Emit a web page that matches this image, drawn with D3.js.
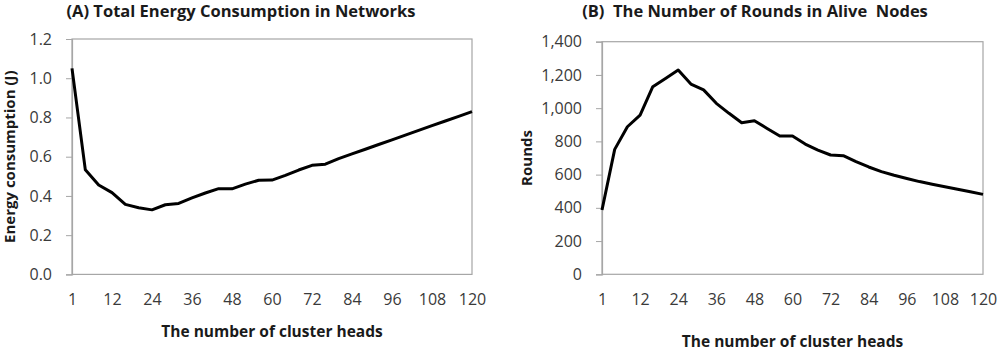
<!DOCTYPE html>
<html>
<head>
<meta charset="utf-8">
<script src="https://cdn.jsdelivr.net/npm/d3@7"></script>
<style>
  html, body { margin: 0; padding: 0; background: #fff; }
  svg { display: block; font-family: "Open Sans", "Noto Sans", sans-serif; }
  .pre { white-space: pre; }
</style>
</head>
<body>
<svg id="chart" width="1000" height="351"></svg>
<script>
// Cluster head counts (category axis, every 3rd one labelled)
const clusterHeads = [1, 4, 8, 12, 16, 20, 24, 28, 32, 36, 40, 44, 48, 52, 56, 60,
  64, 68, 72, 76, 80, 84, 88, 92, 96, 100, 104, 108, 112, 116, 120]
const xTickLabels = [1, 12, 24, 36, 48, 60, 72, 84, 96, 108, 120]

// (A) total energy consumption (J)
const energyValues = [1.05, 0.533, 0.456, 0.417, 0.357, 0.34, 0.329, 0.355, 0.362, 0.39,
  0.415, 0.437, 0.436, 0.46, 0.48, 0.481, 0.505, 0.532, 0.556, 0.562,
  0.59, 0.614, 0.638, 0.662, 0.686, 0.71, 0.734, 0.758, 0.782, 0.806, 0.83]
const energyTicks = [0, 0.2, 0.4, 0.6, 0.8, 1.0, 1.2]

// (B) rounds of alive nodes
const roundsValues = [387, 752, 888, 958, 1129, 1179, 1229, 1145, 1110, 1029,
  969, 912, 924, 878, 832, 832, 784, 748, 718, 714,
  678, 646, 618, 596, 577, 558, 542, 527, 512, 497, 481]
const roundsTicks = [0, 200, 400, 600, 800, 1000, 1200, 1400]

const svg = d3.select("#chart")

const panels = [
  {
    title: "(A) Total Energy Consumption in Networks",
    titleX: 241,
    yLabel: "Energy consumption (J)",
    yLabelX: 9,
    xLabelY: 337,
    box: { left: 72, right: 472, top: 39, bottom: 274.4 },
    values: energyValues,
    ticks: energyTicks,
    yMax: 1.2,
    format: d3.format(".1f")
  },
  {
    title: "(B)  The Number of Rounds in Alive  Nodes",
    titleX: 755,
    yLabel: "Rounds",
    yLabelX: 526,
    xLabelY: 347,
    box: { left: 602, right: 983, top: 41.7, bottom: 274.3 },
    values: roundsValues,
    ticks: roundsTicks,
    yMax: 1400,
    format: d3.format(",")
  }
]

panels.forEach(p => {
  const { box } = p
  const g = svg.append("g")

  const x = d3.scalePoint()
    .domain(clusterHeads)
    .range([box.left, box.right])

  const y = d3.scaleLinear()
    .domain([0, p.yMax])
    .range([box.bottom, box.top])

  // plot area frame
  g.append("rect")
    .attr("x", box.left)
    .attr("y", box.top)
    .attr("width", box.right - box.left)
    .attr("height", box.bottom - box.top)
    .attr("fill", "none")
    .attr("stroke", "#a6a6a6")
    .attr("stroke-width", 1.2)

  // y axis
  const yAxis = g.append("g")
    .attr("transform", `translate(${box.left},0)`)
    .call(d3.axisLeft(y).tickValues(p.ticks).tickFormat(p.format).tickSize(6).tickPadding(14))
  yAxis.select(".domain").attr("stroke", "#a6a6a6").attr("stroke-width", 1.2)
  yAxis.selectAll(".tick line").attr("stroke", "#a6a6a6")
  yAxis.selectAll(".tick text")
    .attr("fill", "#3a3a3a")
    .style("font-size", "16px")
    .style("font-family", "\"Open Sans\", sans-serif")

  // x axis, labels only
  const xAxis = g.append("g")
    .attr("transform", `translate(0,${box.bottom})`)
    .call(d3.axisBottom(x).tickValues(xTickLabels).tickSize(0).tickPadding(19))
  xAxis.select(".domain").remove()
  xAxis.selectAll(".tick text")
    .attr("fill", "#3a3a3a")
    .style("font-size", "16px")
    .style("font-family", "\"Open Sans\", sans-serif")

  // data line
  const line = d3.line()
    .x((d, i) => x(clusterHeads[i]))
    .y(d => y(d))

  g.append("path")
    .datum(p.values)
    .attr("fill", "none")
    .attr("stroke", "#000")
    .attr("stroke-width", 3)
    .attr("stroke-linejoin", "round")
    .attr("d", line)

  // titles
  g.append("text")
    .attr("class", "pre")
    .attr("x", p.titleX)
    .attr("y", 17)
    .attr("text-anchor", "middle")
    .attr("font-weight", "bold")
    .attr("font-size", "16.5px")
    .attr("fill", "#1a1a1a")
    .text(p.title)

  g.append("text")
    .attr("transform", `translate(${p.yLabelX},${(box.top + box.bottom) / 2}) rotate(-90)`)
    .attr("text-anchor", "middle")
    .attr("dominant-baseline", "central")
    .attr("font-weight", "bold")
    .attr("font-size", "15px")
    .attr("fill", "#1a1a1a")
    .text(p.yLabel)

  g.append("text")
    .attr("x", (box.left + box.right) / 2)
    .attr("y", p.xLabelY)
    .attr("text-anchor", "middle")
    .attr("font-weight", "bold")
    .attr("font-size", "15.5px")
    .attr("fill", "#1a1a1a")
    .text("The number of cluster heads")
})
</script>
</body>
</html>
